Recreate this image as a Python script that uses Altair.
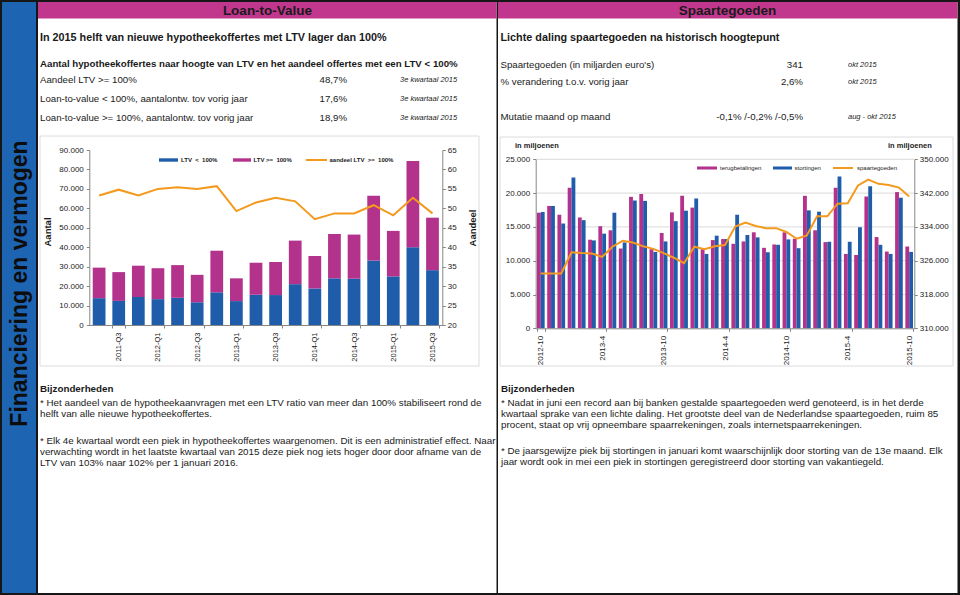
import altair as alt
import pandas as pd

FONT = "Liberation Sans"
INK = "#1a1a1a"
BLUE = "#1f5dab"
MAG = "#b3328c"
ORANGE = "#f39a1e"
BAND_BLUE = "#1d64b3"
HDR_MAG = "#c0378d"
AXIS_GREY = "#868686"
NL_FMT = "replace(format(datum.value, ','), ',', '.')"

# ---------------- data: Loan-to-Value ----------------
quarters = ["2011-Q2", "2011-Q3", "2011-Q4", "2012-Q1", "2012-Q2", "2012-Q3",
            "2012-Q4", "2013-Q1", "2013-Q2", "2013-Q3", "2013-Q4", "2014-Q1",
            "2014-Q2", "2014-Q3", "2014-Q4", "2015-Q1", "2015-Q2", "2015-Q3"]
ltv_lt100 = [13800, 12400, 14400, 13300, 14000, 11700, 16800, 12300, 15600,
             15400, 21000, 18800, 24000, 23800, 33200, 25000, 40000, 28200]
ltv_ge100 = [15700, 14800, 16100, 15900, 16800, 14100, 21400, 11700, 16400,
             17000, 22400, 16700, 22800, 22700, 33300, 23400, 44400, 27000]
aandeel = [53.3, 54.8, 53.3, 55.0, 55.4, 55.0, 55.7, 49.3, 51.5,
           52.7, 51.8, 47.2, 48.7, 48.7, 50.8, 48.2, 52.7, 48.7]
quarter_labels = ["2011-Q3", "2012-Q1", "2012-Q3", "2013-Q1", "2013-Q3",
                  "2014-Q1", "2014-Q3", "2015-Q1", "2015-Q3"]
ltv_series = ["LTV < 100%", "LTV >= 100%"]

# ---------------- data: Spaartegoeden ----------------
months = ["2012-10", "2012-11", "2012-12",
          "2013-1", "2013-2", "2013-3", "2013-4", "2013-5", "2013-6",
          "2013-7", "2013-8", "2013-9", "2013-10", "2013-11", "2013-12",
          "2014-1", "2014-2", "2014-3", "2014-4", "2014-5", "2014-6",
          "2014-7", "2014-8", "2014-9", "2014-10", "2014-11", "2014-12",
          "2015-1", "2015-2", "2015-3", "2015-4", "2015-5", "2015-6",
          "2015-7", "2015-8", "2015-9", "2015-10"]
terugbetalingen = [17100, 18100, 16800, 20800, 16400, 13100, 15100, 14500, 11800,
                   19450, 19850, 11700, 14100, 17150, 19600, 17850, 11700, 13050,
                   13200, 12500, 12850, 14200, 11900, 12400, 14200, 13250, 19600,
                   14500, 12750, 20800, 11000, 10850, 19500, 13500, 11350, 20150,
                   12100]
stortingen = [17200, 18100, 15500, 22300, 16000, 13000, 14000, 17100, 12700,
              18900, 18850, 11300, 12850, 15850, 17400, 19200, 11000, 13700,
              13200, 16800, 13800, 13450, 11250, 12350, 13150, 11850, 17450,
              17250, 12800, 22450, 12800, 14950, 21000, 12350, 11000, 19300,
              11300]
spaartegoeden = [323000, 323000, 323000, 328000, 327800, 327700, 326900, 329300,
                 330700, 330300, 329400, 328800, 327800, 326700, 325400, 329300,
                 328700, 329400, 329700, 334100, 335000, 334200, 333700, 333700,
                 332800, 331200, 332000, 336500, 336500, 339500, 339600, 343800,
                 345200, 344200, 343900, 343300, 341200]
month_labels = ["2012-10", "2013-4", "2013-10", "2014-4", "2014-10", "2015-4", "2015-10"]
sp_series = ["terugbetalingen", "stortingen"]
grid_values = [5000, 10000, 15000, 20000, 25000]

# ---------------- helpers for decoration ----------------
one = pd.DataFrame({"k": [0]})


def box(x1, y1, x2, y2, **mk):
    return alt.Chart(one).mark_rect(**mk).encode(
        x=alt.value(x1), x2=alt.value(x2), y=alt.value(y1), y2=alt.value(y2))


def label(s, x, y, size, weight="normal", style="normal", align="left",
          angle=0, color=INK):
    props = dict(text=s, align=align, baseline="middle", fontSize=size,
                 fontWeight=weight, fontStyle=style, font=FONT, color=color)
    if angle:
        props["angle"] = angle
    return alt.Chart(one).mark_text(**props).encode(x=alt.value(x), y=alt.value(y))


def hline(x1, x2, y, color, width):
    return alt.Chart(one).mark_rule(color=color, strokeWidth=width).encode(
        x=alt.value(x1), x2=alt.value(x2), y=alt.value(y))


def ax(**kw):
    base = dict(title=None, zindex=1, domainColor=AXIS_GREY, tickColor=AXIS_GREY,
                tickSize=3, labelFont=FONT, labelColor=INK, grid=False)
    base.update(kw)
    return alt.Axis(**base)


# ---------------- left chart ----------------
L_X = [89.3, 442.3]
L_Y = [325, 150]
df_ltv = pd.DataFrame({
    "kwartaal": quarters * 2,
    "reeks": [ltv_series[0]] * len(quarters) + [ltv_series[1]] * len(quarters),
    "aantal": ltv_lt100 + ltv_ge100,
    "volg": [0] * len(quarters) + [1] * len(quarters),
})
bars_l = alt.Chart(df_ltv).mark_bar().encode(
    x=alt.X("kwartaal:N", sort=quarters,
            scale=alt.Scale(domain=quarters, range=L_X, paddingInner=0.35, paddingOuter=0.175),
            axis=ax(orient="bottom", offset=L_Y[0] - 595, values=quarter_labels,
                    labelAngle=270, tickBand="extent", labelOverlap=False,
                    labelFontSize=7.5, labelPadding=4)),
    y=alt.Y("aantal:Q", stack="zero",
            scale=alt.Scale(domain=[0, 90000], range=L_Y, nice=False),
            axis=ax(orient="left", offset=-L_X[0], values=list(range(0, 90001, 10000)),
                    labelExpr=NL_FMT, labelFontSize=8, labelPadding=3)),
    color=alt.Color("reeks:N", scale=alt.Scale(domain=ltv_series, range=[BLUE, MAG]), legend=None),
    order=alt.Order("volg:Q"),
)
df_aandeel = pd.DataFrame({"kwartaal": quarters, "aandeel": aandeel,
                           "i": list(range(len(quarters)))})
line_l = alt.Chart(df_aandeel).mark_line(color=ORANGE, strokeWidth=2).encode(
    x=alt.X("kwartaal:N",
            scale=alt.Scale(type="point", domain=quarters, range=L_X, padding=0.5),
            axis=None),
    y=alt.Y("aandeel:Q",
            scale=alt.Scale(domain=[20, 65], range=L_Y, nice=False, zero=False),
            axis=ax(orient="right", offset=L_X[1] - 960, values=list(range(20, 66, 5)),
                    labelFontSize=8, labelPadding=2)),
    order=alt.Order("i:Q"),
)

# ---------------- right chart ----------------
R_X = [535.7, 914.3]
R_Y = [328.3, 159.3]
df_sp = pd.DataFrame({
    "maand": months * 2,
    "reeks": [sp_series[0]] * len(months) + [sp_series[1]] * len(months),
    "bedrag": terugbetalingen + stortingen,
})
df_grid = pd.DataFrame({"g": grid_values})
grid_r = alt.Chart(df_grid).mark_rule(color="#d9d9d9", strokeWidth=1).encode(
    y=alt.Y("g:Q", scale=alt.Scale(domain=[0, 25000], range=R_Y, nice=False), axis=None),
    x=alt.value(R_X[0]), x2=alt.value(R_X[1]),
)
bars_r = alt.Chart(df_sp).mark_bar().encode(
    x=alt.X("maand:N", sort=months,
            scale=alt.Scale(domain=months, range=R_X, paddingInner=0.25, paddingOuter=0.125),
            axis=ax(orient="bottom", offset=R_Y[0] - 595, values=month_labels,
                    labelAngle=270, tickBand="extent", labelOverlap=False,
                    labelFontSize=8, labelPadding=4)),
    xOffset=alt.XOffset("reeks:N", sort=sp_series,
                        scale=alt.Scale(domain=sp_series, paddingInner=0, paddingOuter=0)),
    y=alt.Y("bedrag:Q",
            scale=alt.Scale(domain=[0, 25000], range=R_Y, nice=False),
            axis=ax(orient="left", offset=-R_X[0], values=[0] + grid_values,
                    labelExpr=NL_FMT, labelFontSize=8, labelPadding=3)),
    color=alt.Color("reeks:N", scale=alt.Scale(domain=sp_series, range=[MAG, BLUE]), legend=None),
)
df_spaar = pd.DataFrame({"maand": months, "spaar": spaartegoeden,
                         "i": list(range(len(months)))})
line_r = alt.Chart(df_spaar).mark_line(color=ORANGE, strokeWidth=2).encode(
    x=alt.X("maand:N",
            scale=alt.Scale(type="point", domain=months, range=R_X, padding=0.5),
            axis=None),
    y=alt.Y("spaar:Q",
            scale=alt.Scale(domain=[310000, 350000], range=R_Y, nice=False, zero=False),
            axis=ax(orient="right", offset=R_X[1] - 960,
                    values=list(range(310000, 350001, 8000)),
                    labelExpr=NL_FMT, labelFontSize=8, labelPadding=2)),
    order=alt.Order("i:Q"),
)

# ---------------- frame ----------------
layers = [
    box(0, 0, 960, 595, color="#161616"),
    box(2, 2, 36, 593, color=BAND_BLUE),
    box(38, 2, 496.5, 593, color="white"),
    box(498, 2, 957.5, 593, color="white"),
    box(38, 2, 496.5, 18.5, color=HDR_MAG),
    box(498, 2, 957.5, 18.5, color=HDR_MAG),
    box(40, 136, 479, 366, fillOpacity=0, stroke="#dcdcdc", strokeWidth=1),
    box(500, 137, 953, 366, fillOpacity=0, stroke="#dcdcdc", strokeWidth=1),
    label("Financiering en vermogen", 20, 283.5, 23, weight="bold", align="center", angle=270, color="#0d0d0d"),
    label("Loan-to-Value", 267.5, 11, 13.5, weight="bold", align="center"),
    label("Spaartegoeden", 727.5, 11, 13.5, weight="bold", align="center"),
    # left key figures
    label("In 2015 helft van nieuwe hypotheekoffertes met LTV lager dan 100%", 40, 37.5, 10.8, weight="bold"),
    label("Aantal hypotheekoffertes naar hoogte van LTV en het aandeel offertes met een LTV < 100%", 40, 64, 9.7, weight="bold"),
    label("Aandeel LTV >= 100%", 40, 80, 9.7),
    label("48,7%", 347, 80, 9.7, align="right"),
    label("3e kwartaal 2015", 400, 80, 7.5, style="italic"),
    label("Loan-to-value < 100%, aantalontw. tov vorig jaar", 40, 99, 9.7),
    label("17,6%", 347, 99, 9.7, align="right"),
    label("3e kwartaal 2015", 400, 99, 7.5, style="italic"),
    label("Loan-to-value >= 100%, aantalontw. tov vorig jaar", 40, 117.5, 9.7),
    label("18,9%", 347, 117.5, 9.7, align="right"),
    label("3e kwartaal 2015", 400, 117.5, 7.5, style="italic"),
    # right key figures
    label("Lichte daling spaartegoeden na historisch hoogtepunt", 500.5, 37.5, 10.8, weight="bold"),
    label("Spaartegoeden (in miljarden euro's)", 500.5, 65, 9.7),
    label("341", 803, 65, 9.7, align="right"),
    label("okt 2015", 848, 65, 7.5, style="italic"),
    label("% verandering t.o.v. vorig jaar", 500.5, 82, 9.7),
    label("2,6%", 803, 82, 9.7, align="right"),
    label("okt 2015", 848, 82, 7.5, style="italic"),
    label("Mutatie maand op maand", 500.5, 117, 9.7),
    label("-0,1% /-0,2% /-0,5%", 803, 117, 9.7, align="right"),
    label("aug - okt 2015", 848, 117, 7.5, style="italic"),
    # charts
    grid_r,
    bars_l, line_l,
    bars_r, line_r,
    # left chart annotations
    label("Aantal", 48, 232, 9.5, weight="bold", align="center", angle=270),
    label("Aandeel", 473, 228, 9.5, weight="bold", align="center", angle=270),
    box(159, 158.3, 178, 161.7, color=BLUE),
    label("LTV\u00a0 <\u00a0 100%", 181, 160, 6, weight="bold"),
    box(233, 158.3, 251, 161.7, color=MAG),
    label("LTV >=\u00a0 100%", 253.5, 160, 6, weight="bold"),
    hline(306, 327, 160, ORANGE, 2),
    label("aandeel LTV\u00a0 >=\u00a0 100%", 329.5, 160, 6, weight="bold"),
    # right chart annotations
    label("in miljoenen", 515, 146, 7.5, weight="bold"),
    label("in miljoenen", 888, 146, 7.5, weight="bold"),
    box(697, 166.5, 717, 169.5, color=MAG),
    label("terugbetalingen", 720, 168, 6),
    box(773, 166.5, 792, 169.5, color=BLUE),
    label("stortingen", 794.5, 168, 6),
    hline(833, 853, 168, ORANGE, 2),
    label("spaartegoeden", 857, 168, 6),
    # notes left
    label("Bijzonderheden", 40, 389, 9.8, weight="bold"),
    label("* Het aandeel van de hypotheekaanvragen met een LTV ratio van meer dan 100% stabiliseert rond de", 40, 403, 9.8),
    label("helft van alle nieuwe hypotheekoffertes.", 40, 413.5, 9.8),
    label("* Elk 4e kwartaal wordt een piek in hypotheekoffertes waargenomen. Dit is een administratief effect. Naar", 40, 441, 9.8),
    label("verwachting wordt in het laatste kwartaal van 2015 deze piek nog iets hoger door door afname van de", 40, 452, 9.8),
    label("LTV van 103% naar 102% per 1 januari 2016.", 40, 463, 9.8),
    # notes right
    label("Bijzonderheden", 501, 389, 9.8, weight="bold"),
    label("* Nadat in juni een record aan bij banken gestalde spaartegoeden werd genoteerd, is in het derde", 501, 403, 9.8),
    label("kwartaal sprake van een lichte daling. Het grootste deel van de Nederlandse spaartegoeden, ruim 85", 501, 414, 9.8),
    label("procent, staat op vrij opneembare spaarrekeningen, zoals internetspaarrekeningen.", 501, 425, 9.8),
    label("* De jaarsgewijze piek bij stortingen in januari komt waarschijnlijk door storting van de 13e maand. Elk", 501, 450.5, 9.8),
    label("jaar wordt ook in mei een piek in stortingen geregistreerd door storting van vakantiegeld.", 501, 462, 9.8),
]

chart = alt.layer(*layers).resolve_scale(
    x="independent", y="independent", color="independent"
).properties(
    width=960, height=595, padding=0,
    autosize=alt.AutoSizeParams(type="none"),
    background="white",
).configure_view(strokeWidth=0)

chart.save("out.html", embed_options={"renderer": "svg", "actions": False})
